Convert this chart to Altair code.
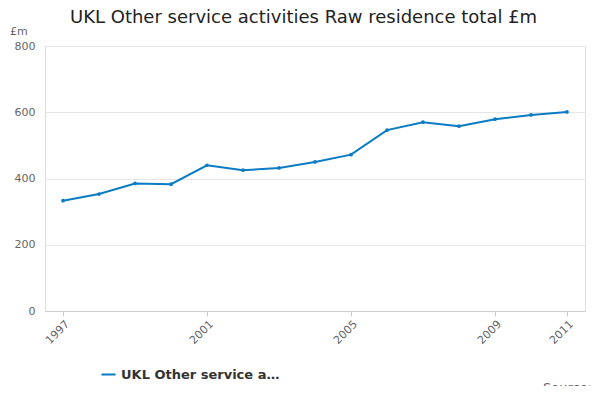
import altair as alt
import pandas as pd

years = list(range(1997, 2012))
values = [333, 353, 385, 383, 440, 425, 432, 450, 472, 546, 570, 558, 579, 592, 601]
series_name = "UKL Other service activities Raw residence total £m"
tick_years = [1997, 2001, 2005, 2009, 2011]

df = pd.DataFrame({"year": years, "value": values, "series": series_name})

line = (
    alt.Chart(df)
    .mark_line(point=alt.OverlayMarkDef(size=14, filled=True), strokeWidth=2)
    .encode(
        x=alt.X(
            "year:Q",
            title=None,
            scale=alt.Scale(domain=[1996.5, 2011.5], nice=False, zero=False),
            axis=alt.Axis(values=tick_years, format="d", labelAngle=-45, grid=False,
                          domainColor="#ccc", tickColor="#ccc", labelColor="#666",
                          labelFontSize=11, labelAlign="right", labelBaseline="top"),
        ),
        y=alt.Y(
            "value:Q",
            title=None,
            scale=alt.Scale(domain=[0, 800]),
            axis=alt.Axis(values=[0, 200, 400, 600, 800], domain=False, ticks=False,
                          gridColor="#e6e6e6", labelColor="#666", labelFontSize=11,
                          labelPadding=10),
        ),
        color=alt.Color(
            "series:N",
            title=None,
            scale=alt.Scale(range=["#0a7bc4"]),
            legend=alt.Legend(orient="none", legendX=55, legendY=320, symbolType="stroke",
                              symbolStrokeWidth=2, labelFontSize=13, labelColor="#333",
                              labelFontWeight="bold", symbolSize=200),
        ),
    )
)

unit = alt.Chart(pd.DataFrame({"t": ["£m"]})).mark_text(
    align="left", fontSize=11, color="#666"
).encode(x=alt.value(-35), y=alt.value(-14), text="t:N")

title = alt.Chart(pd.DataFrame({"t": [series_name]})).mark_text(
    align="left", fontSize=18, color="#222"
).encode(x=alt.value(25), y=alt.value(-28), text="t:N")

source = alt.Chart(pd.DataFrame({"t": ["Source:"]})).mark_text(
    align="left", fontSize=13, color="#666"
).encode(x=alt.value(498), y=alt.value(342), text="t:N")

chart = (
    alt.layer(line, unit, title, source)
    .properties(
        width=540,
        height=265,
        autosize=alt.AutoSizeParams(type="none"),
        padding={"left": 37, "top": 38, "right": 7, "bottom": 75},
    )
    .configure_view(stroke=None)
    .configure(font="DejaVu Sans")
)

chart.save("out.html", embed_options={"renderer": "svg", "actions": False})
